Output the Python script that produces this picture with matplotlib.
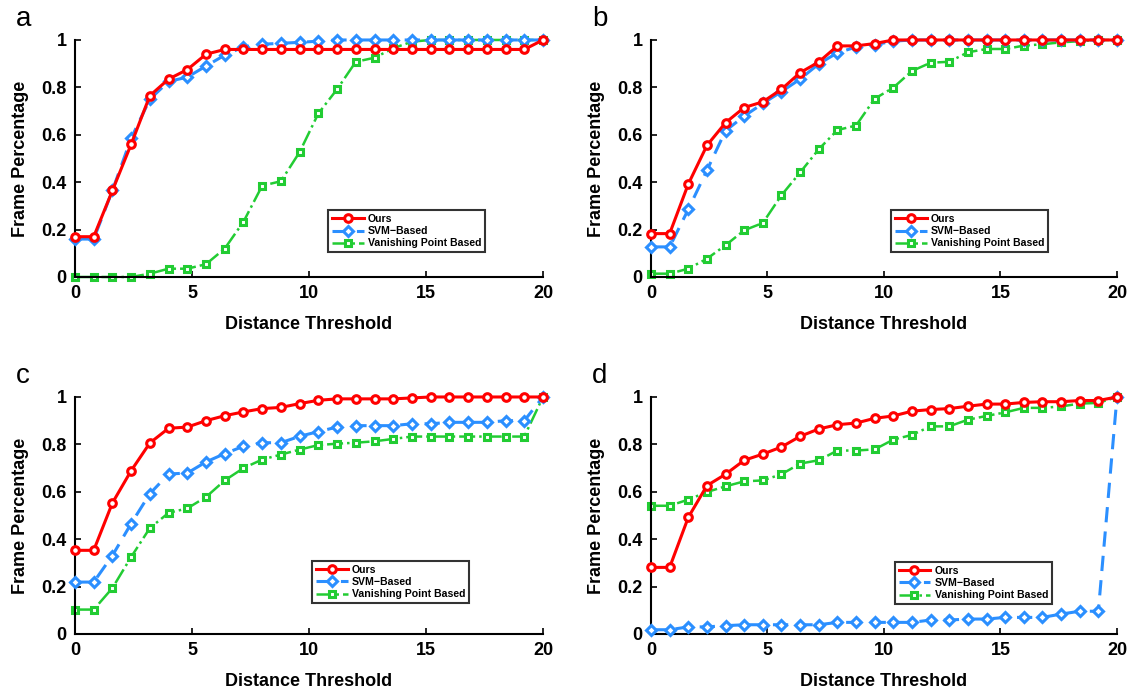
import numpy as np
import matplotlib
matplotlib.use("Agg")
import matplotlib.pyplot as plt

plt.rcParams['font.family'] = ['Liberation Sans', 'DejaVu Sans']
plt.rcParams['font.weight'] = 'bold'

x = np.arange(26) * 0.8

# panel a
ours_a = [0.17, 0.17, 0.365, 0.56, 0.765, 0.835, 0.875, 0.94, 0.96, 0.96, 0.96, 0.96, 0.96,
          0.96, 0.96, 0.96, 0.96, 0.96, 0.96, 0.96, 0.96, 0.96, 0.96, 0.96, 0.96, 1.0]
svm_a = [0.16, 0.16, 0.365, 0.585, 0.75, 0.825, 0.843, 0.89, 0.936, 0.971, 0.982, 0.986, 0.99,
         0.995, 1.0, 1.0, 1.0, 1.0, 1.0, 1.0, 1.0, 1.0, 1.0, 1.0, 1.0, 1.0]
vp_a = [0.0, 0.0, 0.0, 0.0, 0.014, 0.035, 0.035, 0.054, 0.12, 0.233, 0.385, 0.404, 0.527,
        0.69, 0.792, 0.908, 0.925, 0.965, 0.993, 1.0, 1.0, 1.0, 1.0, 1.0, 1.0, 1.0]

# panel b
ours_b = [0.183, 0.183, 0.392, 0.555, 0.651, 0.715, 0.739, 0.792, 0.862, 0.907, 0.975, 0.975, 0.985,
          1.0, 1.0, 1.0, 1.0, 1.0, 1.0, 1.0, 1.0, 1.0, 1.0, 1.0, 1.0, 1.0]
svm_b = [0.127, 0.127, 0.285, 0.45, 0.617, 0.679, 0.732, 0.782, 0.835, 0.899, 0.946, 0.97, 0.98,
         0.995, 1.0, 1.0, 1.0, 1.0, 1.0, 1.0, 1.0, 1.0, 1.0, 1.0, 1.0, 1.0]
vp_b = [0.014, 0.014, 0.035, 0.077, 0.134, 0.197, 0.228, 0.345, 0.441, 0.539, 0.62, 0.639, 0.752,
        0.799, 0.869, 0.904, 0.908, 0.948, 0.962, 0.962, 0.976, 0.982, 0.99, 0.995, 1.0, 1.0]

# panel c
ours_c = [0.353, 0.353, 0.553, 0.689, 0.806, 0.868, 0.873, 0.9, 0.921, 0.937, 0.951, 0.956, 0.972,
          0.986, 0.992, 0.992, 0.992, 0.992, 0.996, 1.0, 1.0, 1.0, 1.0, 1.0, 1.0, 1.0]
svm_c = [0.219, 0.219, 0.331, 0.466, 0.592, 0.675, 0.679, 0.726, 0.761, 0.792, 0.807, 0.807, 0.834,
         0.854, 0.873, 0.879, 0.879, 0.879, 0.887, 0.887, 0.893, 0.893, 0.893, 0.9, 0.9, 1.0]
vp_c = [0.103, 0.103, 0.194, 0.325, 0.447, 0.511, 0.53, 0.578, 0.648, 0.7, 0.736, 0.757, 0.778,
        0.797, 0.803, 0.807, 0.813, 0.823, 0.833, 0.833, 0.833, 0.833, 0.833, 0.833, 0.833, 1.0]

# panel d
ours_d = [0.281, 0.281, 0.492, 0.626, 0.674, 0.733, 0.759, 0.789, 0.834, 0.865, 0.883, 0.89, 0.91,
          0.92, 0.94, 0.947, 0.951, 0.961, 0.97, 0.97, 0.977, 0.98, 0.98, 0.985, 0.985, 1.0]
svm_d = [0.018, 0.018, 0.03, 0.03, 0.035, 0.039, 0.039, 0.039, 0.039, 0.039, 0.049, 0.049, 0.049,
         0.049, 0.049, 0.059, 0.059, 0.063, 0.063, 0.07, 0.07, 0.07, 0.084, 0.096, 0.096, 1.0]
vp_d = [0.541, 0.541, 0.567, 0.599, 0.623, 0.644, 0.648, 0.674, 0.719, 0.733, 0.774, 0.774, 0.779,
        0.82, 0.84, 0.876, 0.876, 0.904, 0.92, 0.935, 0.954, 0.954, 0.96, 0.972, 0.975, 1.0]

panels = [
    ("a", ours_a, svm_a, vp_a, [0.0663, 0.5974, 0.4138, 0.3445], (0.876, 0.105)),
    ("b", ours_b, svm_b, vp_b, [0.5756, 0.5974, 0.4120, 0.3445], (0.852, 0.105)),
    ("c", ours_c, svm_c, vp_c, [0.0663, 0.0785, 0.4138, 0.3445], (0.842, 0.131)),
    ("d", ours_d, svm_d, vp_d, [0.5756, 0.0785, 0.4120, 0.3445], (0.860, 0.127)),
]

red = '#ff0000'
blue = '#2b8fff'
green = '#22cc33'

fig = plt.figure(figsize=(11.31, 6.88), dpi=100)

for name, ours, svm, vp, rect, leg in panels:
    ax = fig.add_axes(rect)
    ax.plot(x, ours, '-o', color=red, lw=2.2, ms=5.5, mfc='white', mec=red, mew=2.2,
            label='Ours', clip_on=False, zorder=4)
    ax.plot(x, svm, '--D', color=blue, lw=2.2, ms=5, mfc='white', mec=blue, mew=2.2,
            dashes=(5, 3), label='SVM\u2212Based', clip_on=False, zorder=3)
    ax.plot(x, vp, '-.s', color=green, lw=1.8, ms=5, mfc='white', mec=green, mew=2.2,
            label='Vanishing Point Based', clip_on=False, zorder=2)
    ax.set_xlim(0, 20)
    ax.set_ylim(0, 1)
    ax.set_xticks([0, 5, 10, 15, 20])
    ax.set_yticks([0, 0.2, 0.4, 0.6, 0.8, 1])
    ax.set_yticklabels(['0', '0.2', '0.4', '0.6', '0.8', '1'])
    ax.spines['top'].set_visible(False)
    ax.spines['right'].set_visible(False)
    ax.spines['left'].set_linewidth(1.5)
    ax.spines['bottom'].set_linewidth(1.5)
    ax.tick_params(direction='in', length=4, width=1.2, labelsize=13, pad=6)
    ax.set_xlabel('Distance Threshold', fontsize=13, fontweight='bold', labelpad=10)
    ax.set_ylabel('Frame Percentage', fontsize=13, fontweight='bold', labelpad=9)
    lg = ax.legend(loc='lower right', bbox_to_anchor=leg, fontsize=7.6, frameon=True,
                   fancybox=False, edgecolor='black', borderpad=0.35, labelspacing=0.2,
                   handlelength=3.0, handletextpad=0.4, borderaxespad=0)
    lg.get_frame().set_linewidth(1.5)
    for t in lg.get_texts():
        t.set_fontweight('bold')
    fig.text(rect[0] - 0.052, rect[1] + rect[3] + 0.012, name, fontsize=20,
             fontweight='normal', va='bottom', ha='left')

fig.savefig('out.png', dpi=100)
